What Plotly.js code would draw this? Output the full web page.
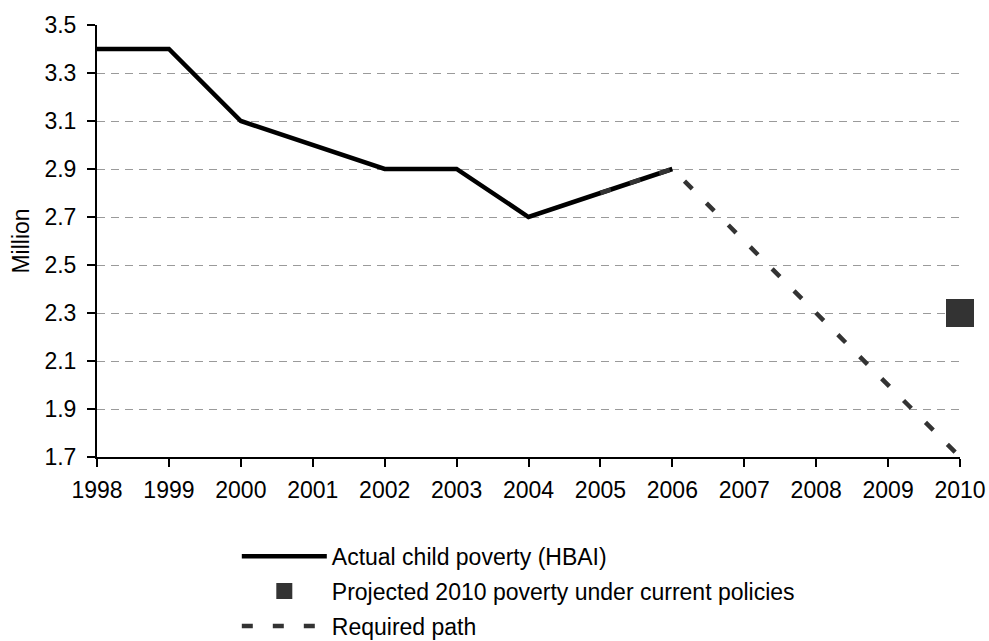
<!DOCTYPE html>
<html>
<head>
<meta charset="utf-8">
<script src="https://cdn.plot.ly/plotly-3.0.1.min.js"></script>
<style>
  html, body { margin: 0; padding: 0; background: #fff; }
  #chart { width: 989px; height: 641px; }
</style>
</head>
<body>
<div id="chart"></div>
<script>
// Child poverty, millions of children
const actualYears = [1998, 1999, 2000, 2001, 2002, 2003, 2004, 2005, 2006];
const actualValues = [3.4, 3.4, 3.1, 3.0, 2.9, 2.9, 2.7, 2.8, 2.9];

const projectedYears = [2010];
const projectedValues = [2.3];

const requiredYears = [2005, 2006, 2007, 2008, 2009, 2010];
const requiredValues = [2.8, 2.9, 2.6, 2.3, 2.0, 1.7];

const yearTicks = [1998, 1999, 2000, 2001, 2002, 2003, 2004, 2005, 2006, 2007, 2008, 2009, 2010];
const valueTicks = [1.7, 1.9, 2.1, 2.3, 2.5, 2.7, 2.9, 3.1, 3.3, 3.5];

const FONT = 'Liberation Sans, Arial, sans-serif';

const traces = [
  {
    x: actualYears, y: actualValues,
    type: 'scatter', mode: 'lines',
    name: 'Actual child poverty (HBAI)',
    legendgroup: 'actual',
    line: { color: '#000000', width: 4.5 },
    cliponaxis: false
  },
  {
    x: projectedYears, y: projectedValues,
    type: 'scatter', mode: 'markers',
    name: 'Projected 2010 poverty under current policies',
    legendgroup: 'projected',
    marker: { symbol: 'square', size: 28, color: '#333333' },
    cliponaxis: false
  },
  {
    x: requiredYears, y: requiredValues,
    type: 'scatter', mode: 'lines',
    name: 'Required path',
    legendgroup: 'required',
    line: { color: '#333333', width: 4.5, dash: '11px,20px' },
    cliponaxis: false
  }
];

const layout = {
  width: 989, height: 641,
  margin: { l: 97, r: 29, t: 25, b: 184, autoexpand: false },
  paper_bgcolor: '#ffffff',
  plot_bgcolor: '#ffffff',
  font: { family: FONT, size: 23, color: '#000000' },
  showlegend: true,
  legend: {
    x: 0.162, y: -0.180, xanchor: 'left', yanchor: 'top',
    orientation: 'v',
    traceorder: 'grouped',
    tracegroupgap: 2,
    font: { family: FONT, size: 23, color: '#000000' },
    itemwidth: 85,
    bgcolor: 'rgba(0,0,0,0)'
  },
  xaxis: {
    range: [1998, 2010],
    tickmode: 'array', tickvals: yearTicks, ticktext: yearTicks.map(String),
    showline: true, linecolor: '#000000', linewidth: 2,
    ticks: 'outside', ticklen: 8, tickwidth: 2, tickcolor: '#000000',
    ticklabelstandoff: 3,
    showgrid: false, zeroline: false,
    tickfont: { family: FONT, size: 23, color: '#000000' }
  },
  yaxis: {
    range: [1.7, 3.5],
    tickmode: 'array', tickvals: valueTicks, ticktext: valueTicks.map(v => v.toFixed(1)),
    showline: true, linecolor: '#000000', linewidth: 2,
    ticks: 'outside', ticklen: 8, tickwidth: 2, tickcolor: '#000000',
    ticklabelstandoff: 6,
    showgrid: true, gridcolor: '#9a9a9a', gridwidth: 1, griddash: '8px,6px',
    zeroline: false,
    tickfont: { family: FONT, size: 23, color: '#000000' },
    title: { text: 'Million', font: { family: FONT, size: 23, color: '#000000' }, standoff: 8 }
  }
};

Plotly.newPlot('chart', traces, layout, { displayModeBar: false, staticPlot: true });
</script>
</body>
</html>
